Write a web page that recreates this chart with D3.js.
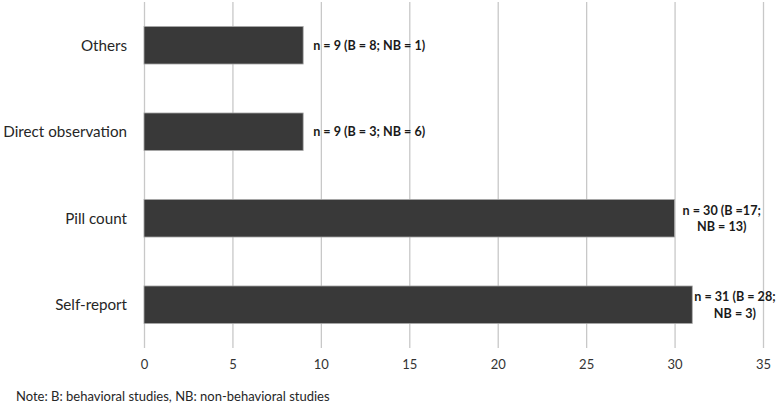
<!DOCTYPE html>
<html>
<head>
<meta charset="utf-8">
<script src="https://cdn.jsdelivr.net/npm/d3@7"></script>
<style>
  body { margin: 0; background: #fff; }
  svg text { font-family: Lato, "Open Sans", sans-serif; }
</style>
</head>
<body>
<div id="chart"></div>
<script>
// data
const categories = ["Others", "Direct observation", "Pill count", "Self-report"];
const values = [9, 9, 30, 31];
const bCounts = [8, 3, 17, 28];
const nbCounts = [1, 6, 13, 3];
const labelLines = [
  ["n = 9 (B = 8; NB = 1)"],
  ["n = 9 (B = 3; NB = 6)"],
  ["n = 30 (B =17;", "NB = 13)"],
  ["n = 31 (B = 28;", "NB = 3)"]
];
const xTicks = [0, 5, 10, 15, 20, 25, 30, 35];
const note = "Note: B: behavioral studies, NB: non-behavioral studies";

const W = 778, H = 409;
const plot = { left: 144, right: 763, top: 2, bottom: 348 };

const svg = d3.select("#chart").append("svg")
  .attr("width", W)
  .attr("height", H);

const x = d3.scaleLinear()
  .domain([0, 35])
  .range([plot.left, plot.right]);

const y = d3.scaleBand()
  .domain(categories)
  .range([plot.top, plot.bottom])
  .paddingInner(0.566)
  .paddingOuter(0.283);

// vertical gridlines + tick labels
const xAxis = svg.append("g")
  .attr("transform", `translate(0,${plot.bottom})`)
  .call(d3.axisBottom(x).tickValues(xTicks).tickSize(-(plot.bottom - plot.top)).tickPadding(12));
xAxis.select(".domain").remove();
xAxis.selectAll(".tick line").attr("stroke", "#c8c8c8").attr("stroke-width", 1.3);
xAxis.selectAll(".tick text")
  .attr("fill", "#333")
  .style("font-size", "13px");

// category labels
svg.append("g")
  .selectAll("text")
  .data(categories)
  .join("text")
    .attr("x", plot.left - 17)
    .attr("y", d => y(d) + y.bandwidth() / 2)
    .attr("dy", "0.35em")
    .attr("text-anchor", "end")
    .attr("fill", "#262626")
    .style("font-size", "15.2px")
    .text(d => d);

// bars
svg.append("g")
  .selectAll("rect")
  .data(values)
  .join("rect")
    .attr("x", x(0))
    .attr("y", (d, i) => y(categories[i]))
    .attr("width", d => x(d) - x(0))
    .attr("height", y.bandwidth())
    .attr("fill", "#393939")
    .attr("stroke", "#a8a8a8")
    .attr("stroke-width", 0.8);

// value labels
const lbl = svg.append("g")
  .selectAll("text")
  .data(values)
  .join("text")
    .attr("fill", "#1a1a1a")
    .style("font-size", "12.6px")
    .style("font-weight", "bold");

lbl.each(function(d, i) {
  const t = d3.select(this);
  const lines = labelLines[i];
  const cy = y(categories[i]) + y.bandwidth() / 2;
  const gap = lines.length > 1 ? (d > 30 ? 2 : 8) : 10;
  const x0 = x(d) + gap;
  const first = t.append("tspan").attr("x", x0).text(lines[0]);
  if (lines.length === 1) {
    t.attr("y", cy).attr("dy", "0.35em");
    return;
  }
  const w = first.node().getComputedTextLength();
  first.attr("text-anchor", "middle").attr("x", x0 + w / 2);
  t.attr("y", cy - 8).attr("dy", "0.35em");
  t.append("tspan")
    .attr("x", x0 + w / 2)
    .attr("dy", "1.3em")
    .attr("text-anchor", "middle")
    .text(lines[1]);
});

// note
svg.append("text")
  .attr("x", 16)
  .attr("y", 401)
  .attr("fill", "#262626")
  .style("font-size", "13px")
  .text(note);
</script>
</body>
</html>
